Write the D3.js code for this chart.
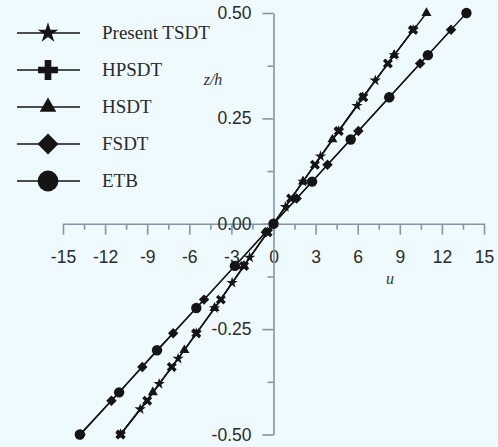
<!DOCTYPE html>
<html>
<head>
<meta charset="utf-8">
<script src="https://cdn.jsdelivr.net/npm/d3@7"></script>
<style>
  html, body { margin: 0; padding: 0; background: #effaff; }
  svg { display: block; }
</style>
</head>
<body>
<div id="chart"></div>
<script>
// series: z/h and u
var tsdtZ = [-0.5, -0.44, -0.38, -0.32, -0.26, -0.20, -0.14, -0.08, -0.02, 0.04, 0.10, 0.16, 0.22, 0.28, 0.34, 0.40, 0.46];
var tsdtU = [-10.9, -9.5, -8.15, -6.8, -5.5, -4.2, -2.95, -1.7, -0.42, 0.85, 2.1, 3.35, 4.65, 5.95, 7.25, 8.6, 9.95];

var hpsdtZ = [-0.5, -0.42, -0.34, -0.26, -0.18, -0.10, -0.02, 0.06, 0.14, 0.22, 0.30, 0.38, 0.46];
var hpsdtU = [-10.9, -9.0, -7.25, -5.5, -3.75, -2.1, -0.42, 1.25, 2.95, 4.65, 6.4, 8.15, 9.95];

var hsdtZ = [-0.5, -0.4, -0.3, -0.2, -0.1, 0, 0.1, 0.2, 0.3, 0.4, 0.5];
var hsdtU = [-10.9, -8.6, -6.35, -4.2, -2.1, 0, 2.1, 4.2, 6.35, 8.6, 10.9];

var fsdtZ = [-0.5, -0.42, -0.34, -0.26, -0.18, -0.10, -0.02, 0.06, 0.14, 0.22, 0.30, 0.38, 0.46];
var fsdtU = [-13.75, -11.55, -9.35, -7.15, -4.95, -2.75, -0.55, 1.65, 3.85, 6.05, 8.25, 10.45, 12.65];

var etbZ = [-0.5, -0.4, -0.3, -0.2, -0.1, 0, 0.1, 0.2, 0.3, 0.4, 0.5];
var etbU = [-13.8, -11.0, -8.3, -5.5, -2.75, 0, 2.75, 5.5, 8.25, 11.0, 13.75];

var seriesNames = ["Present TSDT", "HPSDT", "HSDT", "FSDT", "ETB"];

var xMajor = [-15, -12, -9, -6, -3, 0, 3, 6, 9, 12, 15];
var xMinor = [-13.5, -10.5, -7.5, -4.5, -1.5, 1.5, 4.5, 7.5, 10.5, 13.5];
var yMajor = [-0.5, -0.25, 0, 0.25, 0.5];
var yMinor = [-0.375, -0.125, 0.125, 0.375];

var width = 498, height = 447;
var axisColor = "#8793ab", ink = "#151515";

var x = d3.scaleLinear().domain([-15, 15]).range([63, 484]);
var y = d3.scaleLinear().domain([-0.5, 0.5]).range([434.5, 13]);

var svg = d3.select("#chart")
  .append("svg")
  .attr("width", width)
  .attr("height", height);

svg.append("rect")
  .attr("width", width)
  .attr("height", height)
  .attr("fill", "#effaff");

// plain hyphen for negatives, like the original
function hy(f) {
  return function(d) { return f(d).replace("\u2212", "-"); };
}

// axes cross at the origin
var xAxisG = svg.append("g").attr("transform", "translate(0," + y(0) + ")");
xAxisG.call(d3.axisBottom(x).tickValues(xMajor).tickSize(11).tickSizeOuter(0).tickPadding(16)
  .tickFormat(hy(d3.format("d"))));
xAxisG.append("g").call(d3.axisBottom(x).tickValues(xMinor).tickSize(6).tickFormat(""))
  .select(".domain").remove();

var yAxisG = svg.append("g").attr("transform", "translate(" + x(0) + ",0)");
yAxisG.call(d3.axisLeft(y).tickValues(yMajor).tickSize(11).tickSizeOuter(0).tickPadding(11)
  .tickFormat(hy(d3.format(".2f"))));
yAxisG.append("g").call(d3.axisLeft(y).tickValues(yMinor).tickSize(6).tickFormat(""))
  .select(".domain").remove();

svg.selectAll(".domain, .tick line")
  .attr("stroke", axisColor)
  .attr("stroke-width", 1.6);
svg.selectAll(".tick text")
  .attr("fill", "#2a2a2a")
  .style("font-family", "'Liberation Sans', Arial, sans-serif")
  .style("font-size", "17.5px");
yAxisG.raise();

// axis titles
svg.append("text")
  .attr("x", 213).attr("y", 85)
  .attr("text-anchor", "middle")
  .style("font-family", "'Liberation Serif', 'Times New Roman', serif")
  .style("font-style", "italic")
  .style("font-size", "16px")
  .attr("fill", "#333")
  .text("z/h");

svg.append("text")
  .attr("x", 390).attr("y", 284)
  .attr("text-anchor", "middle")
  .style("font-family", "'Liberation Serif', 'Times New Roman', serif")
  .style("font-style", "italic")
  .style("font-size", "16px")
  .attr("fill", "#333")
  .text("u");

function marker(type, big) {
  var s = d3.symbol();
  if (type == "star") s.type(d3.symbolStar).size(big ? 130 : 40);
  if (type == "plus") s.type(d3.symbolCross).size(big ? 220 : 62);
  if (type == "tri") s.type(d3.symbolTriangle).size(big ? 120 : 44);
  if (type == "diamond") s.type(d3.symbolSquare).size(big ? 220 : 55);
  if (type == "circle") s.type(d3.symbolCircle).size(big ? 340 : 85);
  return s();
}
function rot(type, big) {
  if (type == "diamond") return 45;
  if (type == "plus" && !big) return 45;
  return 0;
}

var series = [
  {name: seriesNames[0], z: tsdtZ, u: tsdtU, m: "star"},
  {name: seriesNames[1], z: hpsdtZ, u: hpsdtU, m: "plus"},
  {name: seriesNames[2], z: hsdtZ, u: hsdtU, m: "tri"},
  {name: seriesNames[3], z: fsdtZ, u: fsdtU, m: "diamond"},
  {name: seriesNames[4], z: etbZ, u: etbU, m: "circle"}
];

var line = d3.line()
  .x(function(d) { return x(d[0]); })
  .y(function(d) { return y(d[1]); });

series.forEach(function(s) {
  var pts = s.z.map(function(z, i) { return [s.u[i], z]; });
  svg.append("path")
    .datum(pts)
    .attr("fill", "none")
    .attr("stroke", ink)
    .attr("stroke-width", 1.4)
    .attr("d", line);
});

series.forEach(function(s) {
  var pts = s.z.map(function(z, i) { return [s.u[i], z]; });
  svg.append("g").selectAll("path")
    .data(pts)
    .enter().append("path")
    .attr("transform", function(d) {
      return "translate(" + x(d[0]) + "," + y(d[1]) + ") rotate(" + rot(s.m, false) + ")";
    })
    .attr("d", marker(s.m, false))
    .attr("fill", ink);
});

// legend
var legend = svg.append("g");
series.forEach(function(s, i) {
  var ly = 33 + i * 37;
  legend.append("line")
    .attr("x1", 17).attr("x2", 80)
    .attr("y1", ly).attr("y2", ly)
    .attr("stroke", ink)
    .attr("stroke-width", 1.5);
  legend.append("path")
    .attr("transform", "translate(48," + ly + ") rotate(" + rot(s.m, true) + ")")
    .attr("d", marker(s.m, true))
    .attr("fill", ink);
  legend.append("text")
    .attr("x", 102).attr("y", ly)
    .attr("dy", "0.33em")
    .style("font-family", "'Liberation Serif', 'Times New Roman', serif")
    .style("font-size", "19px")
    .attr("fill", "#2a2a2a")
    .text(s.name);
});
</script>
</body>
</html>
